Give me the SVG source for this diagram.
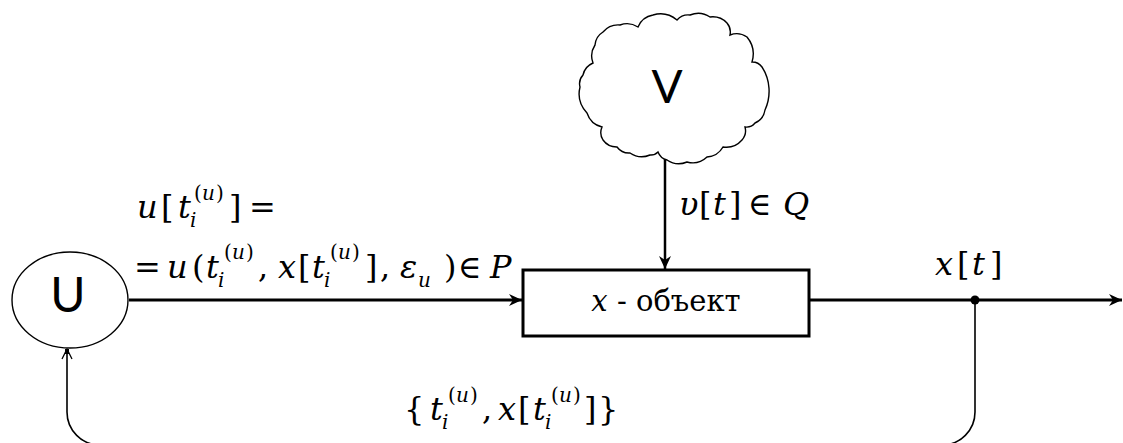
<svg xmlns="http://www.w3.org/2000/svg" width="1123" height="443" viewBox="0 0 1123 443">
<defs>
<style>
.ln{fill:none;stroke:#000;stroke-width:3}
.thin{fill:none;stroke:#000;stroke-width:1.6}
.serif{font-family:"DejaVu Serif","Liberation Serif",serif;fill:#000}
.sans{font-family:Lato,"Liberation Sans",sans-serif;fill:#000}
.i{font-style:italic}
.s{font-size:20px}
</style>
<marker id="ah" markerUnits="userSpaceOnUse" markerWidth="14" markerHeight="12" refX="13" refY="6" orient="auto">
<path d="M0,0 L13,6 L0,12 L4,6 Z" fill="#000"/>
</marker>
<marker id="ao" markerUnits="userSpaceOnUse" markerWidth="12" markerHeight="14" refX="11" refY="7" orient="auto">
<path d="M1,2 L11,7 L1,12" fill="none" stroke="#000" stroke-width="1.3"/>
<rect x="6" y="5" width="5" height="4" fill="#000"/>
</marker>
</defs>

<g id="connectors">
<line class="ln" x1="129" y1="300" x2="522" y2="300" marker-end="url(#ah)"/>
<line class="ln" x1="809" y1="300" x2="1122" y2="300" marker-end="url(#ah)"/>
<line x1="665" y1="158" x2="665" y2="269" stroke="#000" stroke-width="2.5" marker-end="url(#ah)"/>
<path class="thin" d="M975,300 V412 A33,33 0 0 1 942,445 H100 A33,33 0 0 1 67,412 V349" marker-end="url(#ao)"/>
<circle cx="975" cy="300" r="4.5" fill="#000"/>
</g>

<g id="node-U">
<ellipse cx="70" cy="300" rx="58" ry="48" fill="#fff" stroke="#000" stroke-width="1.4"/>
<text class="sans" x="68" y="312" font-size="48" text-anchor="middle">U</text>
</g>

<g id="node-V">
<path fill="#fff" stroke="#000" stroke-width="1.4" d="M595,45 A17,17 0 0 1 603,32 A20,20 0 0 1 620,25 A20,20 0 0 1 638,27 A20,20 0 0 1 653,15 A26,26 0 0 1 677,20 A15,15 0 0 1 690,15 A21,21 0 0 1 710,17 A20,20 0 0 1 727,23 A14,14 0 0 1 730,35 A18,18 0 0 1 747,37 A27,27 0 0 1 752,62 A12,12 0 0 1 762,67 A45,45 0 0 1 765,110 A17,17 0 0 1 755,123 A11,11 0 0 1 745,127 A14,14 0 0 1 742,140 A21,21 0 0 1 723,147 A20,20 0 0 1 707,157 A21,21 0 0 1 687,162 A21,21 0 0 1 667,160 A13,13 0 0 1 658,152 A10,10 0 0 1 650,155 A21,21 0 0 1 630,153 A15,15 0 0 1 617,147 A17,17 0 0 1 603,140 A14,14 0 0 1 602,127 A21,21 0 0 1 587,113 A28,28 0 0 1 580,87 A13,13 0 0 1 583,75 A17,17 0 0 1 593,63 A20,20 0 0 1 595,45 Z"/>
<text class="sans" x="667" y="103" font-size="46" text-anchor="middle">V</text>
</g>

<g id="node-object">
<rect x="523" y="270" width="286" height="66" fill="#fff" stroke="#000" stroke-width="3"/>
<text class="serif" x="666" y="311" font-size="29" text-anchor="middle"><tspan class="i">x</tspan> - объект</text>
</g>

<g id="labels" class="serif" font-size="32">
<text><tspan class="i" x="137" y="218">u</tspan><tspan x="161" y="218">[</tspan><tspan class="i" x="178" y="218">t</tspan><tspan class="s i" x="190" y="227">i</tspan><tspan class="s" x="194" y="200">(</tspan><tspan class="s i" x="202" y="200">u</tspan><tspan class="s" x="216" y="200">)</tspan><tspan x="229" y="218">]</tspan><tspan x="249" y="218">=</tspan></text>

<text><tspan x="134" y="278">=</tspan><tspan class="i" x="167" y="278">u</tspan><tspan x="192" y="278">(</tspan><tspan class="i" x="206" y="278">t</tspan><tspan class="s i" x="218" y="287">i</tspan><tspan class="s" x="224" y="259">(</tspan><tspan class="s i" x="232" y="259">u</tspan><tspan class="s" x="246" y="259">)</tspan><tspan x="258" y="278">,</tspan><tspan class="i" x="278" y="278">x</tspan><tspan x="298" y="278">[</tspan><tspan class="i" x="312" y="278">t</tspan><tspan class="s i" x="324" y="287">i</tspan><tspan class="s" x="330" y="259">(</tspan><tspan class="s i" x="338" y="259">u</tspan><tspan class="s" x="352" y="259">)</tspan><tspan x="365" y="278">]</tspan><tspan x="380" y="278">,</tspan><tspan class="i" x="400" y="278">ε</tspan><tspan class="s i" x="418" y="287">u</tspan><tspan x="444" y="278">)</tspan><tspan x="458" y="278">∈</tspan><tspan class="i" x="490" y="278">P</tspan></text>

<text><tspan class="i" x="679" y="215">υ</tspan><tspan x="699" y="215">[</tspan><tspan class="i" x="713" y="215">t</tspan><tspan x="729" y="215">]</tspan><tspan x="748" y="215">∈</tspan><tspan class="i" x="783" y="215">Q</tspan></text>

<text><tspan class="i" x="935" y="275">x</tspan><tspan x="957" y="275">[</tspan><tspan class="i" x="972" y="275">t</tspan><tspan x="990" y="275">]</tspan></text>

<text><tspan x="404" y="420">{</tspan><tspan class="i" x="430" y="420">t</tspan><tspan class="s i" x="442" y="429">i</tspan><tspan class="s" x="448" y="402">(</tspan><tspan class="s i" x="456" y="402">u</tspan><tspan class="s" x="470" y="402">)</tspan><tspan x="482" y="420">,</tspan><tspan class="i" x="498" y="420">x</tspan><tspan x="518" y="420">[</tspan><tspan class="i" x="533" y="420">t</tspan><tspan class="s i" x="545" y="429">i</tspan><tspan class="s" x="551" y="402">(</tspan><tspan class="s i" x="559" y="402">u</tspan><tspan class="s" x="573" y="402">)</tspan><tspan x="584" y="420">]</tspan><tspan x="598" y="420">}</tspan></text>
</g>
</svg>
